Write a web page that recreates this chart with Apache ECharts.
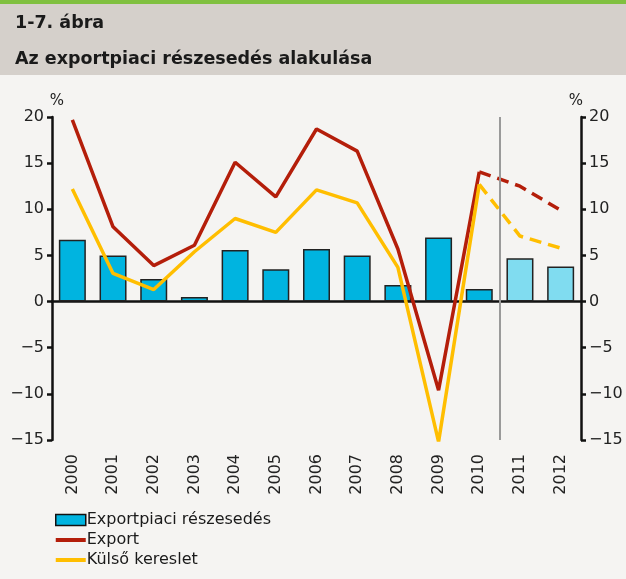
<!DOCTYPE html>
<html>
<head>
<meta charset="utf-8">
<script src="https://cdn.jsdelivr.net/npm/echarts@6/dist/echarts.min.js"></script>
<style>
  html, body { margin: 0; padding: 0; background: #f5f4f2; }
  #chart { width: 626px; height: 579px; }
</style>
</head>
<body>
<div id="chart"></div>
<script>
const years = ["2000", "2001", "2002", "2003", "2004", "2005", "2006", "2007", "2008", "2009", "2010", "2011", "2012"];
// exportpiaci részesedés (oszlop)
const shareData = [6.7, 5.0, 2.45, 0.5, 5.6, 3.5, 5.7, 5.0, 1.8, 6.95, 1.37, 4.7, 3.8];
// export, tény 2000-2010 és előrejelzés 2010-2012
const exportActual = [19.7, 8.1, 3.9, 6.1, 15.1, 11.35, 18.7, 16.3, 5.7, -9.6, 14.05, null, null];
const exportForecast = [null, null, null, null, null, null, null, null, null, null, 14.05, 12.5, 9.9];
// külső kereslet
const demandActual = [12.2, 3.05, 1.3, 5.4, 9.0, 7.5, 12.1, 10.7, 3.7, -15.2, 12.7, null, null];
const demandForecast = [null, null, null, null, null, null, null, null, null, null, 12.7, 7.1, 5.8];
const forecastFrom = 11; // 2011-től előrejelzés, világosabb oszlop

const barColor = "#00b4e0";
const barColorLight = "#80dcf0";
const red = "#b41e0a";
const yellow = "#ffbe00";
const font = "DejaVu Sans";
const lineIcon = "path://M0,0h30v4h-30z";

const chart = echarts.init(document.getElementById("chart"));

const fmt = (v) => String(v).replace("-", "\u2212");

const yAxisBase = {
  type: "value",
  min: -15,
  max: 20,
  interval: 5,
  splitLine: { show: false },
  axisLine: { show: true, onZero: false, lineStyle: { color: "#111", width: 2.5 } },
  axisTick: { show: true, length: 5, lineStyle: { color: "#111", width: 2.5 } },
  axisLabel: { color: "#222", fontSize: 16, fontFamily: font, margin: 8, formatter: fmt },
  name: "%",
  nameLocation: "end",
  nameGap: 4,
  nameTextStyle: { color: "#222", fontSize: 15, fontFamily: font },
};

chart.setOption({
  backgroundColor: "#f5f4f2",
  animation: false,
  graphic: [
    { type: "rect", left: 0, top: 4, shape: { width: 626, height: 71 }, style: { fill: "#d5d0cb" } },
    { type: "rect", left: 0, top: 0, shape: { width: 626, height: 4 }, style: { fill: "#80c040" } },
  ],
  title: [
    {
      text: "1-7. ábra",
      left: 10,
      top: 9,
      textStyle: { fontSize: 17.5, fontWeight: "bold", color: "#1a1a1a", fontFamily: font },
    },
    {
      text: "Az exportpiaci részesedés alakulása",
      left: 10,
      top: 45,
      textStyle: { fontSize: 17.5, fontWeight: "bold", color: "#1a1a1a", fontFamily: font },
    },
  ],
  legend: {
    orient: "vertical",
    left: 50,
    top: 507,
    itemGap: 4,
    itemWidth: 30,
    itemHeight: 11,
    textStyle: { fontSize: 16, color: "#1a1a1a", fontFamily: font, padding: [0, 0, 0, -4] },
    data: [
      { name: "Exportpiaci részesedés", icon: "rect", itemStyle: { color: barColor, borderColor: "#111", borderWidth: 1.5 } },
      { name: "Export", icon: lineIcon, itemStyle: { color: red } },
      { name: "Külső kereslet", icon: lineIcon, itemStyle: { color: yellow } },
    ],
  },
  grid: { left: 52, right: 45, top: 117, bottom: 139 },
  xAxis: [
    {
      type: "category",
      data: years,
      axisLine: { show: true, onZero: true, lineStyle: { color: "#111", width: 2.5 } },
      axisTick: { show: false },
      axisLabel: { show: false },
    },
    {
      type: "category",
      data: years,
      position: "bottom",
      axisLine: { show: false },
      axisTick: { show: false },
      axisLabel: { rotate: 90, color: "#222", fontSize: 16, fontFamily: font, margin: 14, interval: 0 },
    },
    {
      // segédtengely a tény / előrejelzés határvonalához
      type: "value",
      min: 0,
      max: years.length,
      show: false,
    },
  ],
  yAxis: [
    Object.assign({}, yAxisBase, { position: "left", nameTextStyle: Object.assign({}, yAxisBase.nameTextStyle, { padding: [0, 0, 0, 10] }) }),
    Object.assign({}, yAxisBase, { position: "right", nameTextStyle: Object.assign({}, yAxisBase.nameTextStyle, { padding: [0, 10, 0, 0] }) }),
  ],
  series: [
    {
      name: "Exportpiaci részesedés",
      type: "bar",
      barWidth: 27,
      data: shareData.map((v, i) => ({
        value: v,
        itemStyle: { color: i >= forecastFrom ? barColorLight : barColor },
      })),
      itemStyle: { borderColor: "#222", borderWidth: 1.5 },
    },
    {
      name: "határ",
      type: "line",
      xAxisIndex: 2,
      data: [],
      markLine: {
        silent: true,
        symbol: "none",
        label: { show: false },
        lineStyle: { color: "#9a9a9a", width: 2, type: "solid" },
        data: [{ xAxis: forecastFrom }],
      },
    },
    {
      name: "Export",
      type: "line",
      data: exportActual,
      symbol: "none",
      color: red,
      lineStyle: { color: red, width: 3.5 },
    },
    {
      name: "Export",
      type: "line",
      data: exportForecast,
      symbol: "none",
      color: red,
      lineStyle: { color: red, width: 3.5, type: [12, 7] },
    },
    {
      name: "Külső kereslet",
      type: "line",
      data: demandActual,
      symbol: "none",
      color: yellow,
      lineStyle: { color: yellow, width: 3.5 },
    },
    {
      name: "Külső kereslet",
      type: "line",
      data: demandForecast,
      symbol: "none",
      color: yellow,
      lineStyle: { color: yellow, width: 3.5, type: [12, 7] },
    },
  ],
});
</script>
</body>
</html>
